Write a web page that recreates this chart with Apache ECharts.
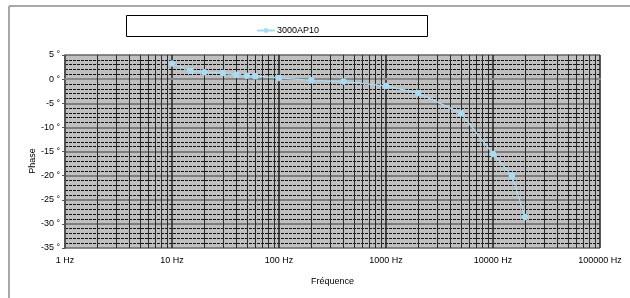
<!DOCTYPE html>
<html>
<head>
<meta charset="utf-8">
<script src="https://cdn.jsdelivr.net/npm/echarts@6/dist/echarts.min.js"></script>
<style>
  html, body { margin: 0; padding: 0; background: #fff; }
  #chart { width: 630px; height: 298px; }
</style>
</head>
<body>
<div id="chart"></div>
<script>
// fréquences (Hz) et phase (degrés)
const freqs = [10, 15, 20, 30, 40, 50, 60, 100, 200, 400, 1000, 2000, 5000, 10000, 15000, 20000];
const phase = [3.25, 1.7, 1.45, 1.25, 0.9, 0.7, 0.6, 0.25, -0.25, -0.5, -1.4, -2.9, -7.05, -15.5, -20, -28.6];
const decades = [1, 10, 100, 1000, 10000];
const seriesName = '3000AP10';

const chart = echarts.init(document.getElementById('chart'));

// lignes verticales secondaires 2..9 de chaque décade
const minorX = [];
decades.forEach(function (d) {
  for (let k = 2; k <= 9; k++) minorX.push({ xAxis: d * k });
});

const option = {
  animation: false,
  textStyle: { fontFamily: 'Liberation Sans, Arial, sans-serif' },
  graphic: [
    { type: 'line', shape: { x1: 9, y1: 6, x2: 630, y2: 6 }, style: { stroke: '#a8a8a8', lineWidth: 2 } },
    { type: 'line', shape: { x1: 9, y1: 6, x2: 9, y2: 298 }, style: { stroke: '#a8a8a8', lineWidth: 2 } },
    { type: 'rect', shape: { x: 126.5, y: 15.5, width: 301, height: 21 }, style: { fill: '#fff', stroke: '#000', lineWidth: 1 }, z: 0 },
    { type: 'text', x: 33, y: 161, rotation: Math.PI / 2, style: { text: 'Phase', fill: '#000', font: '9px Liberation Sans', align: 'center', verticalAlign: 'middle' } }
  ],
  legend: {
    left: 251,
    top: 21,
    itemWidth: 18,
    itemHeight: 6,
    itemGap: 4,
    textStyle: { fontSize: 9, color: '#000', padding: [1, 0, 0, -3] },
    data: [seriesName]
  },
  grid: { left: 65, top: 55, right: 30, bottom: 50, backgroundColor: '#c0c0c0', show: true, borderWidth: 0 },
  xAxis: {
    type: 'log',
    logBase: 10,
    min: 1,
    max: 100000,
    name: 'Fréquence',
    nameLocation: 'middle',
    nameGap: 29,
    nameTextStyle: { fontSize: 9, color: '#000' },
    axisLine: { lineStyle: { color: '#888', width: 2 } },
    axisTick: { show: false },
    axisLabel: {
      fontSize: 9, color: '#000', margin: 8,
      formatter: function (v) { return v + ' Hz'; }
    },
    splitLine: { show: true, lineStyle: { color: '#222', width: 1.5 } }
  },
  yAxis: {
    type: 'value',
    min: -35,
    max: 5,
    interval: 5,
    axisLine: { show: true, lineStyle: { color: '#555', width: 1.5 } },
    axisTick: { show: true, length: 3, lineStyle: { color: '#555' } },
    axisLabel: {
      fontSize: 9, color: '#000', margin: 5,
      formatter: function (v) { return v + ' °'; }
    },
    minorTick: { show: false, splitNumber: 5 },
    splitLine: { show: true, lineStyle: { color: '#666', width: 1.5 } },
    minorSplitLine: { show: true, lineStyle: { color: '#111', width: 1, type: [3, 1] } }
  },
  series: [{
    name: seriesName,
    type: 'line',
    data: freqs.map(function (f, i) { return [f, phase[i]]; }),
    symbol: 'circle',
    symbolSize: 6.5,
    lineStyle: { color: '#a8dcf2', width: 1.2 },
    itemStyle: { color: '#a8dcf2' },
    z: 5,
    markLine: {
      silent: true,
      symbol: 'none',
      label: { show: false },
      lineStyle: { color: '#2a2a2a', width: 1, type: 'solid' },
      data: minorX,
      z: 1
    }
  }]
};

chart.setOption(option);
</script>
</body>
</html>
